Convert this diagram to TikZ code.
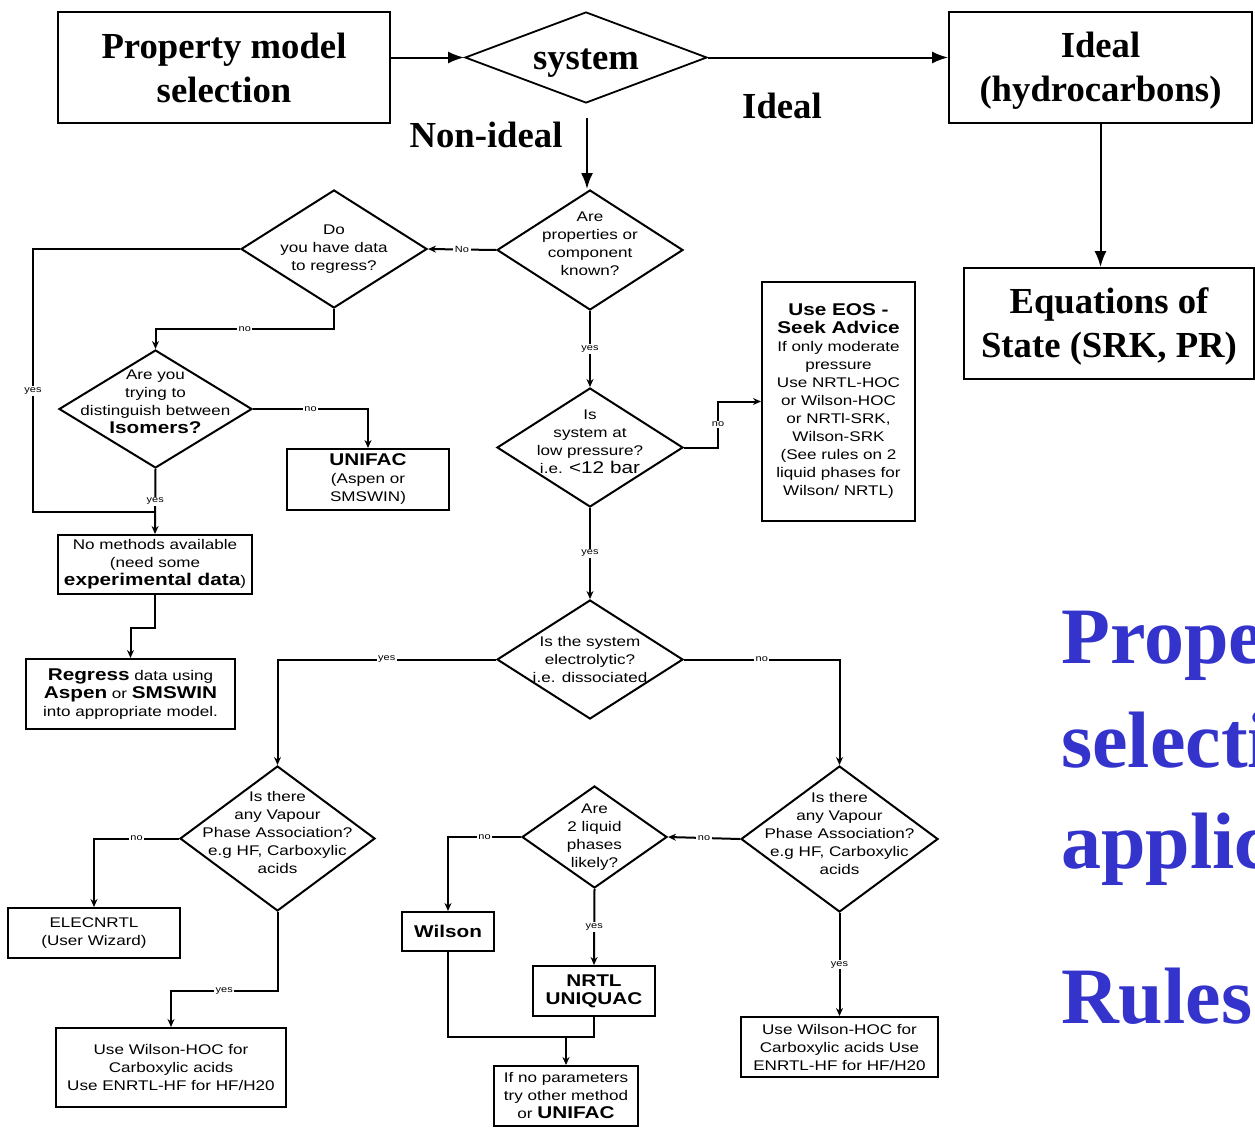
\documentclass[tikz,border=0pt]{standalone}
\usepackage{fontspec}
\setmainfont{Liberation Serif}
\newfontfamily\chartfont[FakeStretch=1.22]{Liberation Sans}
\usetikzlibrary{arrows.meta, shapes.geometric}
\definecolor{titleblue}{RGB}{52,52,204}
\newcommand\heavy{\fontsize{17}{20}\selectfont\bfseries}
\newcommand\medtxt{\fontsize{17}{20}\selectfont}

\begin{document}
\begin{tikzpicture}[x=1pt,y=-1pt,
  bigbox/.style={draw, line width=1.8pt, align=center, inner sep=0, font=\fontsize{36.7}{44}\selectfont\bfseries},
  bigdia/.style={diamond, draw, line width=1.8pt, inner sep=0},
  bigtxt/.style={align=center, font=\fontsize{36.7}{44}\selectfont\bfseries},
  box/.style={draw, line width=2pt, align=center, inner sep=0, font=\chartfont\fontsize{14}{18}\selectfont},
  dia/.style={diamond, draw, line width=2pt, inner sep=0},
  diatxt/.style={align=center, font=\chartfont\fontsize{14}{18}\selectfont},
  lbl/.style={fill=white, inner sep=1.5pt, font=\chartfont\fontsize{9}{10}\selectfont},
  link/.style={line width=2pt},
  arr/.style={line width=2pt, -{Stealth[length=8pt,width=7pt]}},
  toparr/.style={line width=2pt, -{Latex[length=16pt,width=12pt]}},
  titletxt/.style={text=titleblue, inner sep=0, font=\fontsize{80}{90}\selectfont\bfseries}
]
\clip (0,0) rectangle (1255,1127);

% top level
\node[bigbox, minimum width=332, minimum height=111] (pms) at (224,67.5) {Property model\\selection};
\node[bigdia, minimum width=242, minimum height=91, label={[bigtxt, yshift=-6pt]center:system}] (sys) at (586,57.5) {};
\node[bigbox, minimum width=303, minimum height=111, label={[bigtxt, yshift=-3pt]center:{Ideal\\(hydrocarbons)}}] (ideal) at (1100.5,67.5) {};
\node[bigbox, minimum width=290, minimum height=111, label={[bigtxt, yshift=-3pt]center:{Equations of\\State (SRK, PR)}}] (eqs) at (1109,323.5) {};
\node[bigtxt] (idlbl) at (782,106) {Ideal};
\node[bigtxt] (nilbl) at (486,135) {Non-ideal};
\coordinate (ni) at (587,118);

% chart
\node[dia, minimum width=186, minimum height=120, label={[diatxt, yshift=6pt]center:{Are\\properties or\\component\\known?}}] (props) at (590,250) {};
\node[dia, minimum width=186, minimum height=118, label={[diatxt]center:{Do\\you have data\\to regress?}}] (regress) at (334,249) {};
\node[dia, minimum width=193, minimum height=118, label={[diatxt, yshift=7pt]center:{Are you\\trying to\\distinguish between\\{\heavy Isomers?}}}] (isomers) at (155.5,409) {};
\node[box, minimum width=162, minimum height=61] (unifac) at (368,479.5) {{\heavy UNIFAC}\\(Aspen or\\SMSWIN)};
\node[box, minimum width=194, minimum height=59] (nomethods) at (155,564.5) {No methods available\\(need some\\{\heavy experimental data})};
\node[box, minimum width=209, minimum height=70] (regdata) at (130.5,694) {{\heavy Regress} data using\\{\heavy Aspen} or {\heavy SMSWIN}\\into appropriate model.};
\node[dia, minimum width=186, minimum height=119, label={[diatxt, yshift=6pt]center:{Is\\system at\\low pressure?\\i.e. {\medtxt <12 bar}}}] (lowp) at (590,447.5) {};
\node[box, minimum width=153, minimum height=239] (eosbox) at (838.5,401.5) {{\heavy Use EOS -}\\{\heavy Seek Advice}\\If only moderate\\pressure\\Use NRTL-HOC\\or Wilson-HOC\\or NRTl-SRK,\\Wilson-SRK\\(See rules on 2\\liquid phases for\\Wilson/ NRTL)};
\node[dia, minimum width=186, minimum height=119, label={[diatxt]center:{Is the system\\electrolytic?\\i.e. dissociated}}] (elec) at (590,659.5) {};
\node[dia, minimum width=195, minimum height=145, label={[diatxt, yshift=6pt]center:{Is there\\any Vapour\\Phase Association?\\e.g HF, Carboxylic\\acids}}] (vap1) at (277.5,838.5) {};
\node[box, minimum width=172, minimum height=50] (elecnrtl) at (94,933) {ELECNRTL\\(User Wizard)};
\node[box, minimum width=230, minimum height=79] (whoc1) at (171,1067.5) {Use Wilson-HOC for\\Carboxylic acids\\Use ENRTL-HF for HF/H20};
\node[dia, minimum width=197, minimum height=146, label={[diatxt, yshift=6pt]center:{Is there\\any Vapour\\Phase Association?\\e.g HF, Carboxylic\\acids}}] (vap2) at (839.5,839) {};
\node[dia, minimum width=145, minimum height=102, label={[diatxt]center:{Are\\2 liquid\\phases\\likely?}}] (liq) at (594.5,837) {};
\node[box, minimum width=92, minimum height=39] (wilson) at (448,931.5) {\heavy Wilson};
\node[box, minimum width=122, minimum height=50] (nrtl) at (594,991) {{\heavy NRTL}\\{\heavy UNIQUAC}};
\node[box, minimum width=197, minimum height=60] (whoc2) at (839.5,1047) {Use Wilson-HOC for\\Carboxylic acids Use\\ENRTL-HF for HF/H20};
\node[box, minimum width=144, minimum height=60] (ifno) at (566,1096) {If no parameters\\try other method\\or {\heavy UNIFAC}};
\coordinate (yesjoin) at (155,512);
\coordinate (merge) at (566,1037);

% title
\node[titletxt, anchor=base west] (t1) at (1061,663) {Property};
\node[titletxt, anchor=base west] (t2) at (1061,767) {selection};
\node[titletxt, anchor=base west] (t3) at (1061,868) {application};
\node[titletxt, anchor=base west] (t4) at (1061,1023) {Rules};

% top arrows
\draw[toparr] (sys.west -| pms.east) -- (sys.west);
\draw[toparr] (sys.east) -- (sys.east -| ideal.west);
\draw[toparr] (ideal.south) -- (ideal.south |- eqs.north);
\draw[toparr] (ni) -- (ni |- props.north);

% chart connectors
\draw[arr] (props.west) -- node[lbl]{No} (regress.east);
\draw[link] (regress.west) -| node[lbl,pos=0.77]{yes} (33,512) -- (yesjoin);
\draw[arr] (regress.south) -- ++(0,20) -| node[lbl,pos=0.25]{no} (isomers.north);
\draw[arr] (isomers.east) -| node[lbl,pos=0.25]{no} (unifac.north);
\draw[arr] (isomers.south) -- node[lbl]{yes} (nomethods.north);
\draw[arr] (nomethods.south) -- ++(0,33) -| (regdata.north);
\draw[arr] (props.south) -- node[lbl]{yes} (lowp.north);
\draw[arr] (lowp.east) -- ++(34,0) |- node[lbl,pos=0.25]{no} (eosbox.west);
\draw[arr] (lowp.south) -- node[lbl]{yes} (elec.north);
\draw[arr] (elec.west) -| node[lbl,pos=0.25]{yes} (vap1.north);
\draw[arr] (elec.east) -| node[lbl,pos=0.25]{no} (vap2.north);
\draw[arr] (vap1.west) -| node[lbl,pos=0.25]{no} (elecnrtl.north);
\draw[arr] (vap1.south) -- ++(0,79) -| node[lbl,pos=0.25]{yes} (whoc1.north);
\draw[arr] (vap2.west) -- node[lbl]{no} (liq.east);
\draw[arr] (liq.west) -| node[lbl,pos=0.25]{no} (wilson.north);
\draw[arr] (liq.south) -- node[lbl]{yes} (nrtl.north);
\draw[arr] (vap2.south) -- node[lbl]{yes} (whoc2.north);
\draw[link] (wilson.south) |- (merge);
\draw[link] (nrtl.south) |- (merge);
\draw[arr] (merge) -- (merge |- ifno.north);
\end{tikzpicture}
\end{document}
